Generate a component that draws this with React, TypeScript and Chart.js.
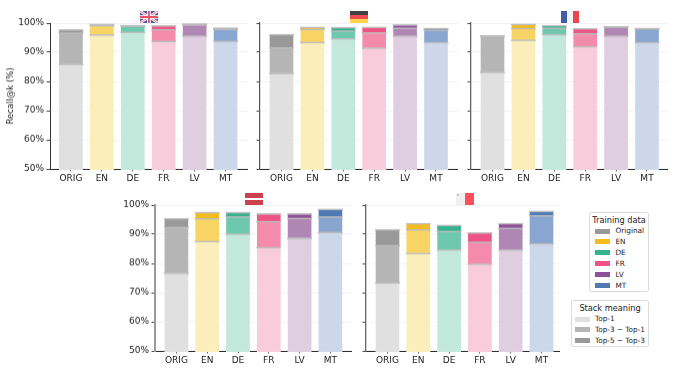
import React, { useEffect, useRef } from "react";
import { Chart, registerables } from "chart.js";

Chart.register(...registerables);

const categories = ["ORIG", "EN", "DE", "FR", "LV", "MT"];

const top1Colors = ["#e0e0e0", "#fbeebb", "#c3e9dd", "#f8ccdb", "#dfcde0", "#ccd8ea"];
const top3Colors = ["#b5b5b5", "#f8d465", "#6ec8ad", "#f48bac", "#b086b5", "#88a6cf"];
const top5Colors = ["#999999", "#f4bc1f", "#36b38e", "#ee5485", "#8f4f99", "#4f7bb5"];

// cumulative recall: Top-1, Top-3, Top-5
const enTop1 = [85.8, 95.9, 96.8, 93.7, 95.5, 93.7];
const enTop3 = [96.5, 99.1, 98.9, 97.7, 99.3, 97.8];
const enTop5 = [97.6, 99.5, 99.1, 99.0, 99.6, 98.2];

const deTop1 = [82.7, 93.3, 94.6, 91.4, 95.5, 93.3];
const deTop3 = [91.5, 97.8, 97.2, 96.6, 98.2, 97.5];
const deTop5 = [96.0, 98.5, 98.4, 98.5, 99.3, 98.1];

const frTop1 = [83.1, 94.1, 96.0, 91.9, 95.5, 93.3];
const frTop3 = [95.5, 98.1, 98.2, 96.3, 98.6, 98.0];
const frTop5 = [95.6, 99.5, 99.1, 98.0, 98.7, 98.1];

const lvTop1 = [76.6, 87.5, 90.0, 85.4, 88.6, 90.6];
const lvTop3 = [92.3, 95.3, 95.9, 94.3, 95.4, 95.9];
const lvTop5 = [95.3, 97.4, 97.4, 96.9, 96.9, 98.5];

const mtTop1 = [73.3, 83.4, 84.6, 79.7, 84.6, 86.7];
const mtTop3 = [86.1, 91.5, 90.9, 87.2, 92.0, 96.3];
const mtTop5 = [91.5, 93.6, 93.0, 90.4, 93.6, 97.8];

const panels = [
  { t1: enTop1, t3: enTop3, t5: enTop5, ax: 49.5, end: 248, top: 23, bottom: 168.5, labels: true, first: 21, unit: 31, axisColor: "#333", axisWidth: 1 },
  { t1: deTop1, t3: deTop3, t5: deTop5, ax: 260, end: 458, top: 23, bottom: 168.5, labels: false, first: 21.5, unit: 30.9, axisColor: "#555", axisWidth: 1.2 },
  { t1: frTop1, t3: frTop3, t5: frTop5, ax: 471, end: 668, top: 23, bottom: 168.5, labels: false, first: 21.5, unit: 30.9, axisColor: "#666", axisWidth: 1.3 },
  { t1: lvTop1, t3: lvTop3, t5: lvTop5, ax: 155, end: 352, top: 205, bottom: 350.5, labels: true, first: 21.4, unit: 30.8, axisColor: "#999", axisWidth: 2 },
  { t1: mtTop1, t3: mtTop3, t5: mtTop5, ax: 366, end: 560, top: 205, bottom: 350.5, labels: false, first: 21.5, unit: 30.8, axisColor: "#666", axisWidth: 1.3 },
];

const FONT = '"DejaVu Sans"';

const capPlugin = {
  id: "caps",
  afterDatasetsDraw(chart: any) {
    const { ctx, chartArea } = chart;
    ctx.save();
    chart.getDatasetMeta(0).data.forEach((el: any, i: number) => {
      ctx.fillStyle = top1Colors[i];
      ctx.fillRect(el.x - el.width / 2 - 0.5, chartArea.bottom - 1, el.width + 1, 2);
    });
    ctx.strokeStyle = "#bdbdbd";
    ctx.lineWidth = 1.4;
    chart.data.datasets.forEach((_: any, i: number) => {
      chart.getDatasetMeta(i).data.forEach((el: any) => {
        const w = el.width / 2 + 1;
        ctx.beginPath();
        ctx.moveTo(el.x - w, el.y);
        ctx.lineTo(el.x + w, el.y);
        ctx.stroke();
      });
    });
    ctx.restore();
  },
};

function Panel({ p }: { p: (typeof panels)[number] }) {
  const ref = useRef<HTMLCanvasElement>(null);
  const leftW = 46;
  const padTop = 10;
  const canvasLeft = p.ax - leftW;
  const canvasTop = p.top - padTop;
  const w = p.end - canvasLeft;
  const h = p.bottom + 16 - canvasTop;

  useEffect(() => {
    const toPts = (vals: number[], prev?: number[]) =>
      vals.map((v, i) => ({ x: i, y: prev ? v - prev[i] : v }));
    const min = -p.first / p.unit;
    const max = min + (p.end - p.ax) / p.unit;
    const chart = new Chart(ref.current as HTMLCanvasElement, {
      type: "bar",
      data: {
        datasets: [
          { label: "Top-1", data: toPts(p.t1), backgroundColor: top1Colors },
          { label: "Top-3 − Top-1", data: toPts(p.t3, p.t1), backgroundColor: top3Colors },
          { label: "Top-5 − Top-3", data: toPts(p.t5, p.t3), backgroundColor: top5Colors },
        ] as any,
      },
      plugins: [capPlugin],
      options: {
        animation: false,
        responsive: false,
        events: [],
        datasets: { bar: { barThickness: 23, borderWidth: 0 } },
        layout: { padding: { top: padTop, left: 0, right: 0, bottom: 0 } },
        plugins: { legend: { display: false }, tooltip: { enabled: false } },
        scales: {
          x: {
            type: "linear",
            offset: false,
            stacked: true,
            min,
            max,
            afterBuildTicks: (s: any) => {
              s.ticks = categories.map((_, i) => ({ value: i }));
            },
            afterFit: (s: any) => {
              s.height = 16;
            },
            ticks: {
              autoSkip: false,
              maxRotation: 0,
              padding: 2,
              color: "#222",
              font: { family: FONT, size: 9 },
              callback: (v: any) => categories[Number(v)] ?? "",
            },
            grid: { display: true, offset: false, drawOnChartArea: false, tickLength: 2.5, color: "#666" },
            border: { color: "#222", width: 1 },
          },
          y: {
            stacked: true,
            min: 50,
            max: 100,
            afterFit: (s: any) => {
              s.width = leftW;
            },
            ticks: {
              stepSize: 10,
              padding: 2.5,
              color: "#222",
              font: { family: FONT, size: 9 },
              callback: (v: any) => (p.labels ? `${v}%` : ""),
            },
            grid: { color: "rgba(0,0,0,0.05)", tickColor: "#444", tickLength: 3.5 } as any,
            border: { color: p.axisColor, width: p.axisWidth },
            title: { display: false },
          },
        },
      } as any,
    });
    return () => chart.destroy();
  }, []);

  return (
    <canvas
      ref={ref}
      width={w}
      height={h}
      style={{ position: "absolute", left: canvasLeft, top: canvasTop, width: w, height: h }}
    />
  );
}

const trainingLegend = [
  { label: "Original", color: "#999999" },
  { label: "EN", color: "#f4bc1f" },
  { label: "DE", color: "#36b38e" },
  { label: "FR", color: "#ee5485" },
  { label: "LV", color: "#8f4f99" },
  { label: "MT", color: "#4f7bb5" },
];
const stackLegend = [
  { label: "Top-1", color: "#e0e0e0" },
  { label: "Top-3 − Top-1", color: "#b5b5b5" },
  { label: "Top-5 − Top-3", color: "#999999" },
];

function LegendBox({ title, items, left, top, width, height, sw, tx, rows }: any) {
  return (
    <div
      style={{
        position: "absolute", left, top, width, height, boxSizing: "border-box",
        border: "1px solid #dcdcdc", borderRadius: 2, background: "#fff",
        fontFamily: FONT, color: "#222",
      }}
    >
      <div style={{ position: "absolute", left: 0, right: 0, top: 1, textAlign: "center", fontSize: 8.2, lineHeight: "12px", whiteSpace: "nowrap" }}>
        {title}
      </div>
      {items.map((it: any, i: number) => (
        <React.Fragment key={it.label}>
          <div style={{ position: "absolute", left: sw, top: rows + i * 10.9 - 2.5, width: 15, height: 5, background: it.color }} />
          <div style={{ position: "absolute", left: tx, top: rows + i * 10.9 - 6, fontSize: 7.3, lineHeight: "12px", whiteSpace: "nowrap" }}>
            {it.label}
          </div>
        </React.Fragment>
      ))}
    </div>
  );
}

const flagBox = (left: number, top: number, children: React.ReactNode) => (
  <svg key={left} width={18} height={12} viewBox="0 0 18 12" style={{ position: "absolute", left, top, opacity: 0.85 }}>
    {children}
  </svg>
);

export default function App() {
  return (
    <div style={{ position: "absolute", left: 0, top: 0, width: 674, height: 371, background: "#fff", overflow: "hidden" }}>
      {panels.map((p, i) => (
        <Panel key={i} p={p} />
      ))}
      <div
        style={{
          position: "absolute", left: 10, top: 96, fontFamily: FONT, fontSize: 8.6, color: "#222",
          whiteSpace: "nowrap", transform: "translate(-50%,-50%) rotate(-90deg)",
        }}
      >
        Recall@k (%)
      </div>
      {flagBox(139.5, 11, <>
        <rect width="18" height="12" fill="#2f3f8f" />
        <path d="M0 0L18 12M18 0L0 12" stroke="#fff" strokeWidth="2.4" />
        <path d="M0 0L18 12M18 0L0 12" stroke="#e0405a" strokeWidth="0.8" />
        <path d="M9 0V12M0 6H18" stroke="#fff" strokeWidth="3.6" />
        <path d="M9 0V12M0 6H18" stroke="#e8344c" strokeWidth="1.8" />
      </>)}
      {flagBox(350, 11, <>
        <rect width="18" height="4" fill="#222" />
        <rect y="4" width="18" height="4" fill="#f02a35" />
        <rect y="8" width="18" height="4" fill="#ffce2a" />
      </>)}
      {flagBox(561, 11, <>
        <rect width="6" height="12" fill="#1f3f9a" />
        <rect x="6" width="6" height="12" fill="#eef4f6" />
        <rect x="12" width="6" height="12" fill="#e5262f" />
      </>)}
      {flagBox(244.5, 193, <>
        <rect width="18" height="5" fill="#c0212f" />
        <rect y="5" width="18" height="2" fill="#fff" />
        <rect y="7" width="18" height="5" fill="#c0212f" />
      </>)}
      {flagBox(456, 193, <>
        <rect width="9" height="12" fill="#eeeeee" />
        <rect x="9" width="9" height="12" fill="#ff3040" />
        <rect x="1" y="1" width="1.6" height="1.6" fill="#d09a9a" />
      </>)}
      <LegendBox title="Training data" items={trainingLegend} left={589} top={212} width={60} height={80} sw={5} tx={25.5} rows={18} />
      <LegendBox title="Stack meaning" items={stackLegend} left={571} top={300} width={78} height={47} sw={2.5} tx={23} rows={18} />
    </div>
  );
}
